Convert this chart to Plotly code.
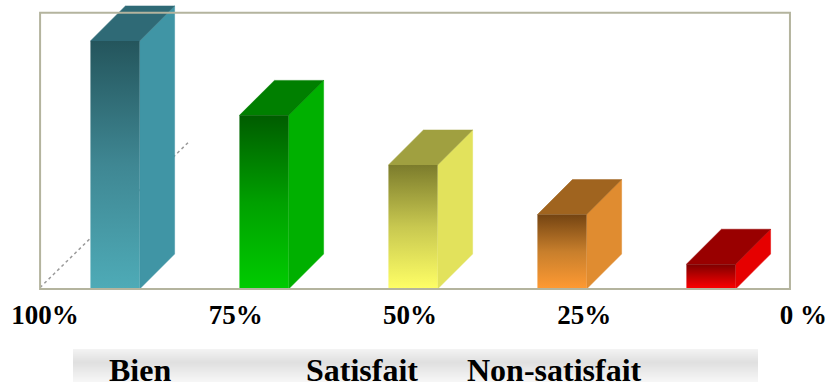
import plotly.graph_objects as go

categories = ["A", "B", "C", "D", "E"]
values = [100, 70, 50, 30, 10]
front_top = ["#24555c", "#005c00", "#7c7c2c", "#744412", "#7d0000"]
front_mid = ["#3f8793", "#00a000", "#c8c850", "#c87f2c", "#c00000"]
front_bottom = ["#4eabb7", "#00cc00", "#ffff66", "#ff9a33", "#ff0000"]
top_face = ["#2f6a76", "#007f00", "#a0a040", "#a0641f", "#990000"]
side_face = ["#4095a5", "#00b000", "#e2e25c", "#e08c30", "#e60000"]

tick_labels = ["100%", "75%", "50%", "25%", "0 %"]
tick_positions = [-0.47, 0.81, 1.98, 3.15, 4.62]
legend_labels = ["Bien", "Satisfait", "Non-satisfait"]
legend_positions = [140, 362, 554]

BAR_W = 0.33
DX = 0.235
DY = 14.1
X_RANGE = [-0.772, 4.792]
Y_RANGE = [-0.4, 116.5]
FRAME_X = [-0.503, 4.53]
FRAME_Y = [0, 111.4]

fig = go.Figure()

# dotted floor diagonal behind the first bar
fig.add_trace(go.Scatter(
    x=[FRAME_X[0], 0.49], y=[0.6, 59], mode="lines",
    line=dict(color="#999999", width=1.5, dash="dot"), hoverinfo="skip"))

for i, v in enumerate(values):
    l, r = i - BAR_W / 2, i + BAR_W / 2
    # side face
    fig.add_trace(go.Scatter(
        x=[r, r + DX, r + DX, r, r], y=[0, DY, v + DY, v, 0], mode="lines", fill="toself",
        line=dict(width=0.5, color=side_face[i]), fillcolor=side_face[i], hoverinfo="skip"))
    # top face
    fig.add_trace(go.Scatter(
        x=[l, r, r + DX, l + DX, l], y=[v, v, v + DY, v + DY, v], mode="lines", fill="toself",
        line=dict(width=0.5, color=top_face[i]), fillcolor=top_face[i], hoverinfo="skip"))
    # front face
    fig.add_trace(go.Scatter(
        x=[l, r, r, l, l], y=[0, 0, v, v, 0], mode="lines", fill="toself",
        line=dict(width=0, color=front_bottom[i]),
        fillgradient=dict(type="vertical", colorscale=[
            [0, front_bottom[i]], [0.5, front_mid[i]], [1, front_top[i]]]),
        hoverinfo="skip"))

shapes = [dict(type="rect", xref="x", yref="y", x0=FRAME_X[0], x1=FRAME_X[1],
               y0=FRAME_Y[0], y1=FRAME_Y[1], line=dict(color="#b4b49e", width=2),
               layer="above")]

# grey legend band: fades in to about y=362, then out towards the bottom
PH = 290
band_top, band_bottom = 349, 382
n = band_bottom - band_top
for k in range(n):
    py = band_top + k
    if py < 362:
        g = int(243 - (243 - 224) * (py - band_top) / 13)
    else:
        g = int(224 + (248 - 224) * (py - 362) / (band_bottom - 362))
    shapes.append(dict(type="rect", xref="paper", yref="paper", x0=73 / 829, x1=758 / 829,
                       y0=(PH - (py + 1)) / PH, y1=(PH - py) / PH,
                       fillcolor=f"rgb({g},{g},{g})", line=dict(width=0), layer="below"))

annotations = [dict(text=f"<b>{t}</b>", x=x / 829, xref="paper", xanchor="center",
                    y=(PH - 350) / PH, yref="paper", yanchor="top", showarrow=False,
                    font=dict(family="Liberation Serif", size=32, color="#000000"))
               for t, x in zip(legend_labels, legend_positions)]

fig.update_layout(
    width=829, height=383, margin=dict(l=0, r=0, t=0, b=93, pad=0, autoexpand=False),
    paper_bgcolor="white", plot_bgcolor="white", showlegend=False, hovermode=False,
    shapes=shapes, annotations=annotations,
    xaxis=dict(range=X_RANGE, showgrid=False, zeroline=False, showline=False,
               tickmode="array", tickvals=tick_positions,
               ticktext=[f"<b>{t}</b>" for t in tick_labels],
               ticks="outside", ticklen=1, tickcolor="rgba(0,0,0,0)",
               tickfont=dict(family="Liberation Serif", size=27, color="#000000")),
    yaxis=dict(range=Y_RANGE, showgrid=False, zeroline=False, showline=False, visible=False),
)

fig.write_html("out.html", post_script="document.body.style.margin='0';",
               config=dict(displayModeBar=False))
